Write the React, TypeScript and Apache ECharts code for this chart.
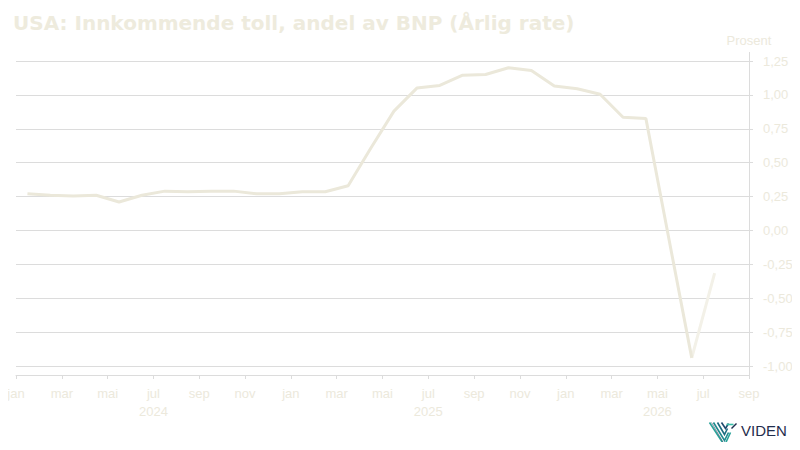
import React, { useEffect, useRef } from "react";
import * as echarts from "echarts";

const monthNames = ["jan", "feb", "mar", "apr", "mai", "jun", "jul", "aug", "sep", "okt", "nov", "des"];
// month index (from jan 2024) under which each year label is shown
const yearLabelAt: Record<number, number> = { 6: 2024, 18: 2025, 28: 2026 };
// Monthly values, jan 2024 .. jul 2026 (percent of GDP, annual rate)
const values = [
  0.27, 0.26, 0.255, 0.26, 0.21, 0.26, 0.29, 0.285, 0.29, 0.29, 0.27, 0.27,
  0.285, 0.285, 0.33, 0.61, 0.88, 1.05, 1.07, 1.145, 1.15, 1.2, 1.18, 1.065,
  1.045, 1.005, 0.835, 0.825, -0.06, -0.94, -0.315,
];
// last segment (preliminary) drawn lighter
const preliminaryFrom = 29;
const yTicks = { min: -1, max: 1.25, step: 0.25 };
const xRange = { min: 0, max: 32, step: 2 };

const mainColor = "#ebe8da";
const prelimColor = "#f3f1e8";
const textColor = "#ece9dc";
const gridColor = "#dcdcdc";

export default function App() {
  const ref = useRef<HTMLDivElement>(null);
  useEffect(() => {
    if (!ref.current) return;
    const chart = echarts.init(ref.current, null, { renderer: "svg" });
    const pts = values.map((v, i) => [i + 0.5, v]);
    chart.setOption({
      animation: false,
      backgroundColor: "#ffffff",
      title: {
        text: "USA: Innkommende toll, andel av BNP (Årlig rate)",
        left: 8,
        top: 8,
        textStyle: { fontFamily: "DejaVu Sans", fontWeight: "bold", fontSize: 20, color: "#eeebdd" },
      },
      grid: { left: 16, right: 51, top: 61, bottom: 84, containLabel: false },
      xAxis: {
        type: "value",
        min: xRange.min,
        max: xRange.max,
        interval: xRange.step,
        position: "bottom",
        offset: 9,
        axisLine: { show: true, onZero: false, lineStyle: { color: gridColor, width: 1 } },
        axisTick: { show: true, length: 4, lineStyle: { color: gridColor } },
        splitLine: { show: false },
        axisLabel: {
          margin: 9,
          color: textColor,
          fontFamily: "Liberation Sans",
          fontSize: 13,
          lineHeight: 18,
          formatter: (v: number) => {
            const m = ((v % 12) + 12) % 12;
            const y = yearLabelAt[v];
            return monthNames[m] + (y ? "\n" + y : "");
          },
        },
      },
      yAxis: {
        type: "value",
        position: "right",
        min: yTicks.min,
        max: yTicks.max,
        interval: yTicks.step,
        name: "Prosent",
        nameLocation: "end",
        nameGap: 14,
        nameTextStyle: { color: textColor, fontFamily: "Liberation Sans", fontSize: 13 },
        axisLine: { show: false, onZero: false },
        axisTick: { show: true, length: 4, lineStyle: { color: gridColor } },
        splitLine: { show: true, lineStyle: { color: gridColor, width: 1 } },
        axisLabel: {
          margin: 14,
          color: textColor,
          fontFamily: "Liberation Sans",
          fontSize: 13,
          formatter: (v: number) => v.toFixed(2).replace(".", ","),
        },
      },
      series: [
        {
          type: "line",
          data: pts.slice(0, preliminaryFrom + 1),
          showSymbol: false,
          lineStyle: { color: mainColor, width: 3 },
          z: 3,
        },
        {
          type: "line",
          data: pts.slice(preliminaryFrom),
          showSymbol: false,
          lineStyle: { color: prelimColor, width: 3 },
          z: 2,
        },
      ],
      graphic: [
        { type: "line", shape: { x1: 749.5, y1: 52, x2: 749.5, y2: 375 }, style: { stroke: gridColor, lineWidth: 1 } },
        {
          type: "group",
          left: 707,
          top: 420,
          children: [
            { type: "polyline", shape: { points: [[0, 0], [15, 23], [21, 10]] }, style: { stroke: "#2aa39a", lineWidth: 1.6, fill: "none" } },
            { type: "polyline", shape: { points: [[4, 0], [15, 18], [19, 10]] }, style: { stroke: "#1f8a8f", lineWidth: 1.6, fill: "none" } },
            { type: "polyline", shape: { points: [[8, 0], [15, 12], [18, 6]] }, style: { stroke: "#1d6c80", lineWidth: 1.6, fill: "none" } },
            { type: "polyline", shape: { points: [[12, 0], [16, 6], [19, 1]] }, style: { stroke: "#1f4a6e", lineWidth: 1.6, fill: "none" } },
            { type: "line", shape: { x1: 17, y1: 2, x2: 24, y2: 2 }, style: { stroke: "#3bbfa8", lineWidth: 1.6 } },
            { type: "line", shape: { x1: 22, y1: 6, x2: 27, y2: 1 }, style: { stroke: "#1f2d4d", lineWidth: 1.4 } },
            { type: "line", shape: { x1: 2, y1: 0, x2: 15, y2: 22 }, style: { stroke: "#1f2d4d", lineWidth: 1, opacity: 0.5 } },
          ],
        },
        {
          type: "text",
          left: 741,
          top: 423,
          style: { text: "VIDEN", fill: "#1f2d4d", fontFamily: "Liberation Sans", fontSize: 15, fontWeight: "normal" },
        },
      ],
    });
    return () => chart.dispose();
  }, []);
  return <div ref={ref} style={{ width: 800, height: 450, margin: -8 }} />;
}
